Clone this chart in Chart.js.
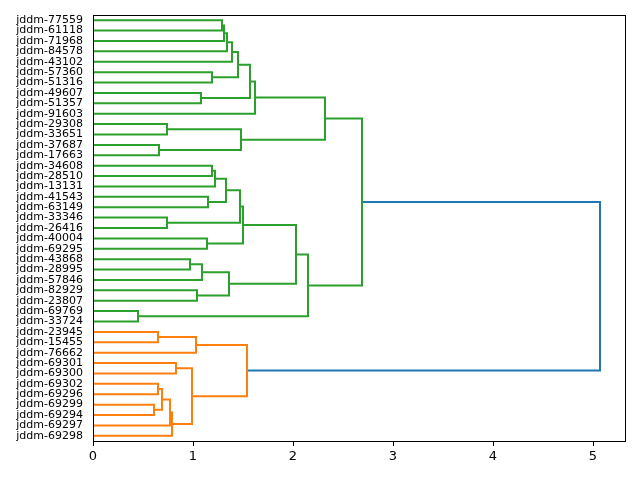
<!DOCTYPE html>
<html>
<head>
<meta charset="utf-8">
<script src="https://cdn.jsdelivr.net/npm/chart.js@4.4.1/dist/chart.umd.min.js"></script>
<style>
  html, body { margin: 0; padding: 0; background: #fff; }
  #wrap { width: 640px; height: 480px; }
</style>
</head>
<body>
<div id="wrap"><canvas id="dendro" width="640" height="480"></canvas></div>
<script>
// leaves, top to bottom as shown
const leafLabels = [
  'jddm-77559', 'jddm-61118', 'jddm-71968', 'jddm-84578', 'jddm-43102',
  'jddm-57360', 'jddm-51316', 'jddm-49607', 'jddm-51357', 'jddm-91603',
  'jddm-29308', 'jddm-33651', 'jddm-37687', 'jddm-17663', 'jddm-34608',
  'jddm-28510', 'jddm-13131', 'jddm-41543', 'jddm-63149', 'jddm-33346',
  'jddm-26416', 'jddm-40004', 'jddm-69295', 'jddm-43868', 'jddm-28995',
  'jddm-57846', 'jddm-82929', 'jddm-23807', 'jddm-69769', 'jddm-33724',
  'jddm-23945', 'jddm-15455', 'jddm-76662', 'jddm-69301', 'jddm-69300',
  'jddm-69302', 'jddm-69296', 'jddm-69299', 'jddm-69294', 'jddm-69297',
  'jddm-69298'
];

// merges: [child a, child b, distance]; leaf ids 0..40, new clusters 41..
const merges = [
  [0, 1, 1.29], [41, 2, 1.31], [42, 3, 1.34], [43, 4, 1.39],
  [5, 6, 1.19], [44, 45, 1.45], [7, 8, 1.08], [46, 47, 1.57],
  [48, 9, 1.62], [10, 11, 0.74], [12, 13, 0.66], [50, 51, 1.48],
  [49, 52, 2.32], [14, 15, 1.19], [54, 16, 1.22], [17, 18, 1.15],
  [55, 56, 1.33], [19, 20, 0.74], [57, 58, 1.47], [21, 22, 1.14],
  [59, 60, 1.50], [23, 24, 0.97], [62, 25, 1.09], [26, 27, 1.04],
  [63, 64, 1.36], [61, 65, 2.03], [28, 29, 0.45], [66, 67, 2.15],
  [53, 68, 2.69], [30, 31, 0.65], [70, 32, 1.03], [33, 34, 0.83],
  [35, 36, 0.65], [37, 38, 0.61], [73, 74, 0.69], [75, 39, 0.77],
  [76, 40, 0.79], [72, 77, 0.99], [71, 78, 1.54], [69, 79, 5.07]
];

const xTicks = [0, 1, 2, 3, 4, 5];
const clusterColors = ['#ff7f0e', '#2ca02c'];   // assigned from the bottom leaf up
const aboveColor = '#1f77b4';
const colorThreshold = 0.7 * Math.max(...merges.map(m => m[2]));

const nLeaf = leafLabels.length;
const leafPos = leafLabels.map((_, i) => 5 + 10 * i);

// node position / height
const pos = {}, height = {};
leafLabels.forEach((_, i) => { pos[i] = leafPos[i]; height[i] = 0; });
merges.forEach((m, k) => {
  const id = nLeaf + k;
  pos[id] = (pos[m[0]] + pos[m[1]]) / 2;
  height[id] = m[2];
});

// colour each link: below threshold -> colour of its top cluster
const linkColor = {};
const rootId = nLeaf + merges.length - 1;
let colorIdx = 0;
function paint(id, col) {
  if (id < nLeaf) return;
  const m = merges[id - nLeaf];
  if (col === null && m[2] < colorThreshold) {
    col = clusterColors[colorIdx % clusterColors.length];
    colorIdx++;
  }
  linkColor[id] = col === null ? aboveColor : col;
  // visit the lower child (bottom side) first, like scipy does from the first leaf
  const kids = [m[0], m[1]].sort((a, b) => pos[b] - pos[a]);
  kids.forEach(c => paint(c, col));
}
paint(rootId, null);

const datasets = merges.map((m, k) => {
  const id = nLeaf + k;
  const a = m[0], b = m[1];
  return {
    data: [
      { x: height[a], y: pos[a] },
      { x: m[2], y: pos[a] },
      { x: m[2], y: pos[b] },
      { x: height[b], y: pos[b] }
    ],
    borderColor: linkColor[id],
    borderWidth: 2,
    pointRadius: 0,
    showLine: true,
    fill: false,
    tension: 0
  };
});

/* frame round the plot area */
const framePlugin = {
  id: 'frame',
  afterDraw(chart) {
    const { ctx, chartArea: a } = chart;
    ctx.save();
    ctx.strokeStyle = '#000';
    ctx.lineWidth = 1;
    ctx.strokeRect(Math.round(a.left) + 0.5, Math.round(a.top) + 0.5,
      Math.round(a.right - a.left), Math.round(a.bottom - a.top));
    ctx.restore();
  }
};

new Chart(document.getElementById('dendro'), {
  type: 'scatter',
  data: { datasets },
  plugins: [framePlugin],
  options: {
    responsive: false,
    animation: false,
    layout: { padding: { top: 15, right: 15, left: 0, bottom: 0 } },
    plugins: { legend: { display: false }, tooltip: { enabled: false } },
    scales: {
      x: {
        type: 'linear',
        min: 0,
        max: 5.32,
        afterBuildTicks: (s) => { s.ticks = xTicks.map(v => ({ value: v })); },
        afterFit: (s) => { s.height = 39; s.paddingLeft = 0; s.paddingRight = 0; },
        grid: { display: true, drawOnChartArea: false, drawTicks: true, tickLength: 5, color: '#000' },
        border: { display: false },
        ticks: {
          color: '#000',
          font: { family: 'DejaVu Sans', size: 13 },
          padding: 3,
          maxRotation: 0,
          callback: (v) => String(v)
        }
      },
      y: {
        type: 'linear',
        reverse: true,
        min: 0,
        max: nLeaf * 10,
        afterBuildTicks: (s) => { s.ticks = leafPos.map(v => ({ value: v })); },
        afterFit: (s) => { s.width = 93; s.paddingTop = 0; s.paddingBottom = 0; },
        grid: { display: false, drawTicks: false },
        border: { display: false },
        ticks: {
          color: '#000',
          autoSkip: false,
          font: { family: 'DejaVu Sans', size: 11 },
          padding: 10,
          callback: (v) => leafLabels[leafPos.indexOf(v)]
        }
      }
    }
  }
});
</script>
</body>
</html>
